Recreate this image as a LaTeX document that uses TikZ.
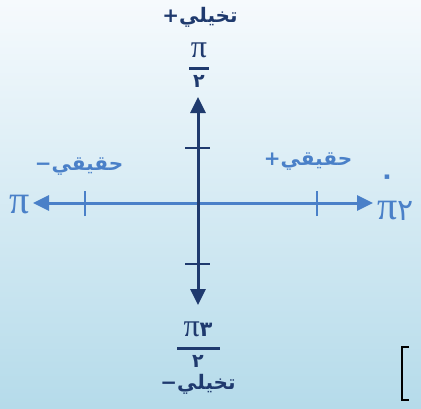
\documentclass[tikz,border=0pt]{standalone}
\usepackage{fontspec}
\usetikzlibrary{arrows.meta}
\TeXXeTstate=1
\newfontfamily\arabicfont[Script=Arabic]{DejaVu Sans}
\newfontfamily\pifont{Liberation Serif}
\definecolor{navy}{HTML}{1F3A6E}
\definecolor{axisblue}{HTML}{4A80C8}
\definecolor{bgtop}{HTML}{F6FAFD}
\definecolor{bgbottom}{HTML}{B5DBEA}
\tikzset{
  vaxis/.style={navy, line width=3pt},
  haxis/.style={axisblue, line width=3pt},
  tip/.style={-{Triangle[length=16pt,width=15pt]}},
  vtick/.style={navy, line width=2.6pt},
  htick/.style={axisblue, line width=2.2pt},
  vlabel/.style={navy, font=\arabicfont\bfseries\fontsize{20}{22}\selectfont, inner sep=0pt},
  hlabel/.style={axisblue, font=\arabicfont\bfseries\fontsize{20}{22}\selectfont, inner sep=0pt},
  pinum/.style={navy, font=\pifont\fontsize{32}{34}\selectfont, inner sep=0pt},
  digit/.style={navy, font=\arabicfont\bfseries\fontsize{19}{21}\selectfont, inner sep=0pt},
  hpi/.style={axisblue, font=\pifont\fontsize{40}{42}\selectfont, inner sep=0pt},
  hdigit/.style={axisblue, font=\arabicfont\fontsize{30}{32}\selectfont, inner sep=0pt},
  fracbar/.style={navy, line width=3pt},
}
\begin{document}
\begin{tikzpicture}[x=1pt,y=-1pt]
  % background
  \shade[top color=bgtop, bottom color=bgbottom] (0,0) rectangle (421,408);
  \useasboundingbox (0,0) rectangle (421,408);

  % axis end points
  \coordinate (origin) at (198,203);
  \coordinate (vtop) at (198,97);
  \coordinate (vbot) at (198,305);
  \coordinate (hleft) at (33,203);
  \coordinate (hright) at (373,203);

  % horizontal (real) axis
  \draw[haxis, tip] (origin) -- (hright);
  \draw[haxis, tip] (origin) -- (hleft);
  \coordinate (tl) at (85,203);
  \coordinate (tr) at (317,203);
  \draw[htick] ([yshift=-13pt]tl) -- ([yshift=12pt]tl);
  \draw[htick] ([yshift=-13pt]tr) -- ([yshift=12pt]tr);

  % vertical (imaginary) axis
  \draw[vaxis, tip] (origin) -- (vtop);
  \draw[vaxis, tip] (origin) -- (vbot);
  \coordinate (tu) at (198,148);
  \coordinate (td) at (198,264);
  \draw[vtick] ([xshift=-13pt]tu) -- ([xshift=12pt]tu);
  \draw[vtick] ([xshift=-13pt]td) -- ([xshift=12pt]td);

  % top labels
  \node[vlabel] (imgpos) at (200,17) {\beginR تخيلي+\endR};
  \node[pinum] (topnum) at (199,50) {π};
  \node[digit] (topden) at (199,81) {٢};
  \draw[fracbar] (189,68) -- (209,68);

  % bottom labels
  \node[pinum] (botnum) at (198,329) {π\arabicfont\bfseries\fontsize{21}{23}\selectfont ٣};
  \node[digit] (botden) at (198,361) {٢};
  \draw[fracbar] (177,348) -- (220,348);
  \node[vlabel] (imgneg) at (198,384) {\beginR تخيلي−\endR};

  % left labels
  \node[hlabel] (realneg) at (79,167) {\beginR حقيقي−\endR};
  \node[hpi] (leftpi) at (20,205) {π};

  % right labels: 2pi with the zero mark above
  \node[hlabel] (realpos) at (308,162) {\beginR حقيقي+\endR};
  \node[hpi, anchor=west] (rightpi) at (377,211) {π};
  \node[hdigit, anchor=west] (rightdigit) at (rightpi.east) {٢};
  \node[hdigit, font=\arabicfont\bfseries\fontsize{26}{28}\selectfont] (zero) at (387,180) {٠};

  % bracket in the corner
  \draw[black, line width=2.2pt] (409,347) -- (402,347) -- (402,400) -- (409,400);
\end{tikzpicture}
\end{document}
